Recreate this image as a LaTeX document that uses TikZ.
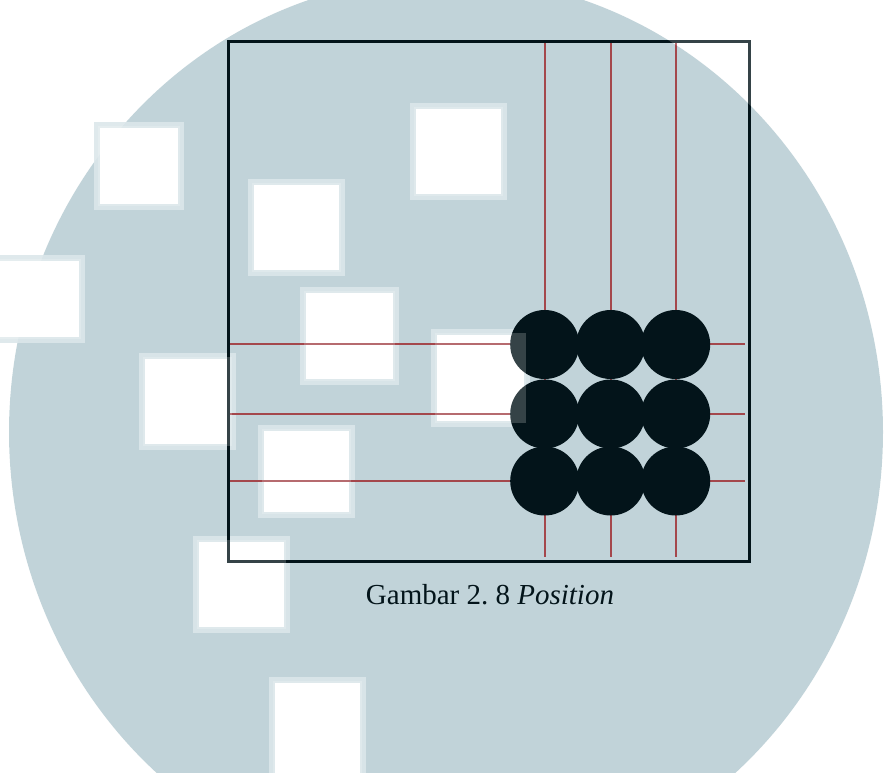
\documentclass[tikz,border=0pt]{standalone}
\usepackage{fontspec}
\setmainfont{Liberation Serif}
\definecolor{wm}{HTML}{C1D3D9}
\definecolor{fringe}{HTML}{D8E4E8}
\definecolor{ink}{HTML}{03141A}
\definecolor{gridred}{HTML}{A4474C}
\tikzset{
  stone/.style={circle,fill=ink,minimum size=69pt,inner sep=0pt},
  gridline/.style={gridred,line width=1.8pt},
  frameline/.style={draw=ink,line width=3pt},
  veil/.style={white,opacity=0.2}
}
\frenchspacing
\begin{document}
\begin{tikzpicture}[x=1pt,y=-1pt]
\useasboundingbox (0,0) rectangle (889,773);
\begin{scope}
\clip (0,0) rectangle (889,773);
% watermark background
\fill[white] (0,0) rectangle (889,773);
\fill[wm] (446,432) ellipse [x radius=437pt, y radius=455pt];
\foreach \a/\b/\c/\d in {410/103/507/200, 248/179/345/276, 300/287/399/385,
  431/329/530/427, 139/353/236/450, 258/425/355/518, 193/536/290/633,
  269/677/366/790, 94/122/184/210, -10/255/85/343}
{
  \fill[fringe] (\a,\b) rectangle (\c,\d);
  \fill[white] (\a+6,\b+6) rectangle (\c-6,\d-6);
}
\end{scope}
% board
\node[frameline, minimum width=520.5pt, minimum height=519.5pt, inner sep=0pt] (board) at (488.75,301.25) {};
% grid lines
\foreach \i/\x in {1/544.7, 2/610.7, 3/675.7}{
  \coordinate (vt\i) at (\x,43);
  \coordinate (vb\i) at (\x,557);
  \draw[gridline] (vt\i) -- (vb\i);
}
\foreach \j/\y in {1/344, 2/414, 3/481}{
  \coordinate (hl\j) at (230,\y);
  \coordinate (hr\j) at (745,\y);
  \draw[gridline] (hl\j) -- (hr\j);
}
% stones
\foreach \i/\x in {1/544.7, 2/610.7, 3/675.7}{
  \foreach \j/\y in {1/344.5, 2/414, 3/481}{
    \node[stone] (s\i\j) at (\x,\y) {};
  }
}
% board frame on top
\node[frameline, minimum width=520.5pt, minimum height=519.5pt, inner sep=0pt] (boardtop) at (488.75,301.25) {};
% caption
\node[anchor=base, text=ink, inner sep=0pt, font=\fontsize{29}{34}\selectfont] (cap) at (490,604.3) {Gambar 2. 8 \textit{Position}};
% watermark veil over the drawing
\begin{scope}
\clip (0,0) rectangle (889,773);
\fill[veil, even odd rule] (-20,-20) rectangle (909,793) (446,432) ellipse [x radius=437pt, y radius=455pt];
\foreach \a/\b/\c/\d in {410/103/507/200, 248/179/345/276, 300/287/399/385,
  431/329/530/427, 139/353/236/450, 258/425/355/518, 193/536/290/633,
  269/677/366/790, 94/122/184/210, -10/255/85/343}
{
  \fill[veil] (\a+4,\b+4) rectangle (\c-4,\d-4);
}
\end{scope}
\end{tikzpicture}
\end{document}
